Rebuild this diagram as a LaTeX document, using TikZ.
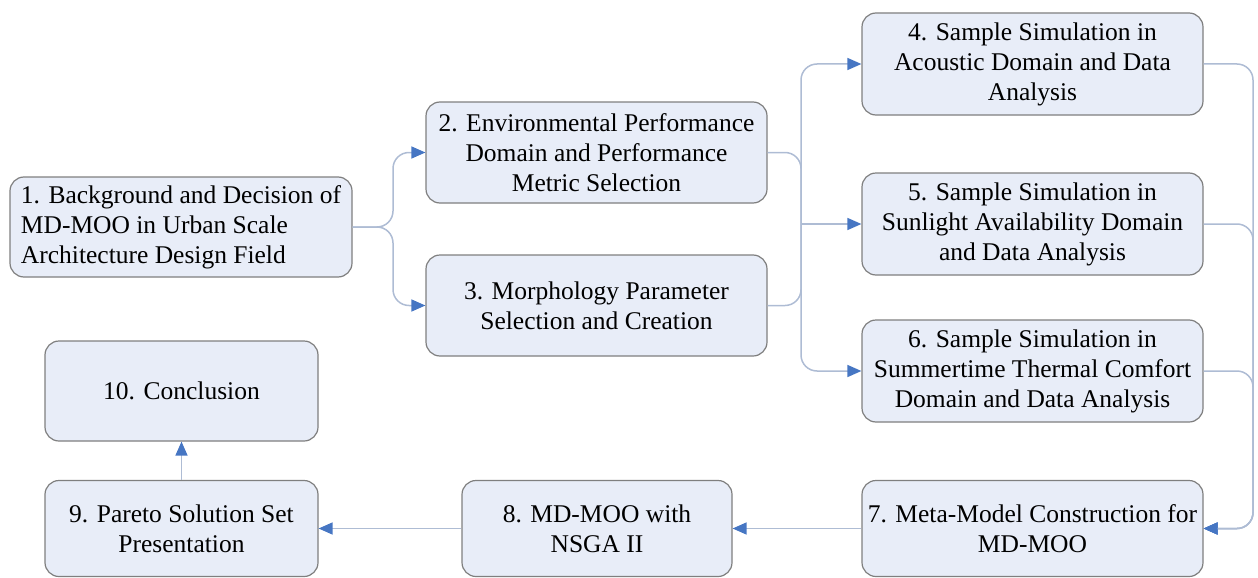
\documentclass[tikz,border=0pt]{standalone}
\usepackage{fontspec}
\setmainfont{Liberation Serif}
\usetikzlibrary{arrows.meta}
\definecolor{boxfill}{HTML}{E8EDF8}
\definecolor{boxline}{HTML}{7F7F7F}
\definecolor{wire}{HTML}{AEBCD4}
\definecolor{tipblue}{HTML}{4676C3}
\begin{document}
\begin{tikzpicture}[x=1pt,y=-1pt,
  box/.style={draw=boxline, line width=1.2pt, fill=boxfill, rounded corners=14pt,
    inner sep=0pt, align=center, font=\fontsize{25.5}{30}\selectfont},
  wide/.style={minimum width=341pt, minimum height=101pt},
  narrow/.style={minimum width=273pt, minimum height=100pt},
  link/.style={draw=wire, line width=1.5pt, rounded corners=16pt,
    -{Triangle[length=14pt,width=12pt,color=tipblue]}}]
\useasboundingbox (0,0) rectangle (1258,578);

% bus lines that collect and distribute the flow
\coordinate (busL) at (393,0);
\coordinate (busM) at (801,0);
\coordinate (busR) at (1253,0);

% process steps
\node[box, wide, minimum width=342pt, minimum height=100pt, align=left] (n1) at (181,227)
  {1. Background and Decision of\\MD-MOO in Urban Scale\\Architecture Design Field};
\node[box, wide] (n2) at (596.5,152.5)
  {2. Environmental Performance\\Domain and Performance\\Metric Selection};
\node[box, wide] (n3) at (596.5,305.5)
  {3. Morphology Parameter\\Selection and Creation};
\node[box, wide, minimum height=102pt] (n4) at (1032.5,64)
  {4. Sample Simulation in\\Acoustic Domain and Data\\Analysis};
\node[box, wide, minimum height=102pt] (n5) at (1032.5,224)
  {5. Sample Simulation in\\Sunlight Availability Domain\\and Data Analysis};
\node[box, wide, minimum height=102pt] (n6) at (1032.5,371)
  {6. Sample Simulation in\\Summertime Thermal Comfort\\Domain and Data Analysis};
\node[box, wide, minimum height=96pt] (n7) at (1032.5,528.5)
  {7. Meta-Model Construction for\\MD-MOO};
\node[box, minimum width=270pt, minimum height=96pt] (n8) at (597,528.5)
  {8. MD-MOO with\\NSGA II};
\node[box, narrow, minimum height=96pt] (n9) at (181.5,528.5)
  {9. Pareto Solution Set\\Presentation};
\node[box, narrow] (n10) at (181.5,391)
  {10. Conclusion};

% connectors
\draw[link] (n1.east) -- (n1.east -| busL) |- (n2.west);
\draw[link] (n1.east) -- (n1.east -| busL) |- (n3.west);
\draw[link] (n2.east) -- (n2.east -| busM) |- (n6.west);
\draw[link] (n3.east) -- (n3.east -| busM) |- (n4.west);
\draw[link] (n5.west -| busM) -- (n5.west);
\draw[link] (n4.east) -- (n4.east -| busR) |- (n7.east);
\draw[link] (n5.east) -- (n5.east -| busR) |- (n7.east);
\draw[link] (n6.east) -- (n6.east -| busR) |- (n7.east);
\draw[link] (n7.west) -- (n8.east);
\draw[link] (n8.west) -- (n9.east);
\draw[link] (n9.north) -- (n10.south);
\end{tikzpicture}
\end{document}
